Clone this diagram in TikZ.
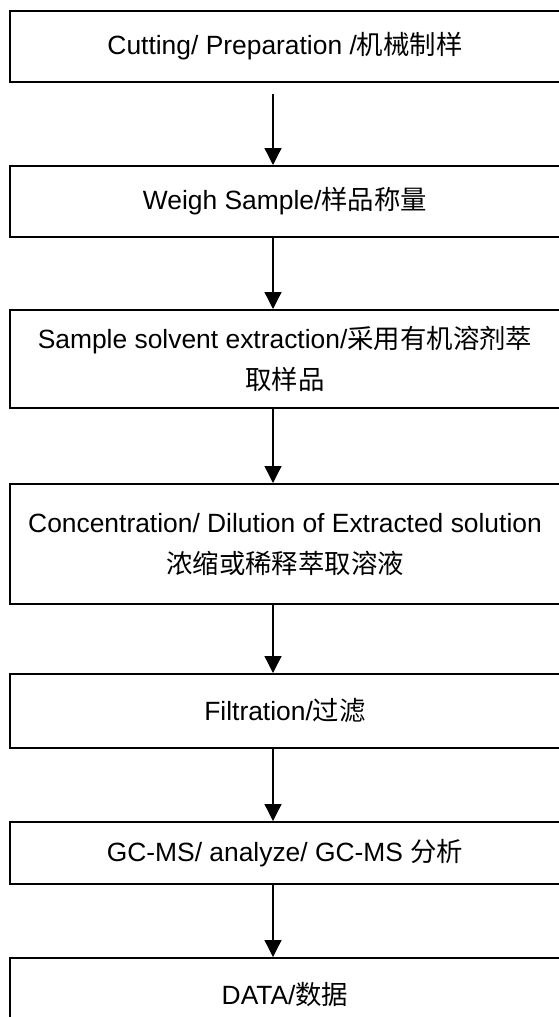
\documentclass[tikz,border=0pt]{standalone}
\usepackage{fontspec}
\setmainfont{Liberation Sans}
\newfontfamily\cjk{Noto Sans CJK SC}
\usetikzlibrary{arrows.meta}
\newcommand{\boxwidth}{550pt}
\newcommand{\boxmid}{285}
\newcommand{\arrowx}{273}
\newcommand{\txtsize}{\fontsize{26.4}{41}\selectfont}

\begin{document}
\begin{tikzpicture}[x=1pt,y=-1pt,
    stepbox/.style={draw,line width=2pt,minimum width=\boxwidth,inner sep=0pt,
      align=center,font=\txtsize},
    flow/.style={line width=1.3pt,-{Triangle[width=17pt,length=17pt]}}]
    \useasboundingbox (0,0) rectangle (559,1017);
    \coordinate (axis) at (\arrowx,0);

    % steps
    \node (cutting) at (\boxmid,46.5) [stepbox,minimum height=71pt]
      {Cutting/ Preparation /{\cjk 机械制样}};
    \node (weigh) at (\boxmid,201.5) [stepbox,minimum height=71pt]
      {Weigh Sample/{\cjk 样品称量}};
    \node (extract) at (\boxmid,359) [stepbox,minimum height=98pt]
      {Sample solvent extraction/{\cjk 采用有机溶剂萃}\\{\cjk 取样品}};
    \node (concen) at (\boxmid,544) [stepbox,minimum height=120pt]
      {Concentration/ Dilution of Extracted solution\\{\cjk 浓缩或稀释萃取溶液}};
    \node (filter) at (\boxmid,711) [stepbox,minimum height=74pt]
      {Filtration/{\cjk 过滤}};
    \node (gcms) at (\boxmid,853) [stepbox,minimum height=62pt]
      {GC-MS/ analyze/ GC-MS {\cjk 分析}};
    \node (data) at (\boxmid,994) [stepbox,minimum height=72pt]
      {DATA/{\cjk 数据}};

    % arrows
    \draw[flow,shorten <=11pt] (cutting.south -| axis) -- (weigh.north -| axis);
    \draw[flow] (weigh.south -| axis) -- (extract.north -| axis);
    \draw[flow] (extract.south -| axis) -- (concen.north -| axis);
    \draw[flow] (concen.south -| axis) -- (filter.north -| axis);
    \draw[flow] (filter.south -| axis) -- (gcms.north -| axis);
    \draw[flow] (gcms.south -| axis) -- (data.north -| axis);
\end{tikzpicture}
\end{document}
